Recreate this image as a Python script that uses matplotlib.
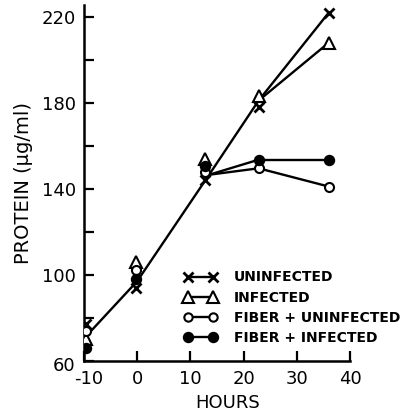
import matplotlib
matplotlib.use("Agg")
import matplotlib.pyplot as plt
import matplotlib.transforms as mtrans
from matplotlib.lines import Line2D

# ---- data ----
hours = [-9.7, -0.2, 12.8, 22.8, 36.0]
uninfected = [77, 94, 144, 178, 222]
infected = [70, 106, 154, 183, 208]
fiber_uninfected = [74, 102, 148, 149.5, 141]
fiber_infected = [66, 98, 150.5, 153.5, 153.5]

# hand-drawn curves of the figure
common_hours = [-8.8, 0.0, 13.5]
common_protein = [73.5, 97.0, 146.5]
branch_hours = [13.5, 22.8]
infected_branch = [146.5, 181.0]
fiber_unf_branch = [146.5, 149.5]
fiber_inf_branch = [146.5, 153.5]

labels = ["UNINFECTED", "INFECTED", "FIBER + UNINFECTED", "FIBER + INFECTED"]
xticks = [-10, 0, 10, 20, 30, 40]
xlabels = ["-10", "0", "10", "20", "30", "40"]
yticks = [60, 80, 100, 120, 140, 160, 180, 200, 220]
ylabels = ["60", "", "100", "", "140", "", "180", "", "220"]

plt.rcParams['font.family'] = ['DejaVu Sans']
fig = plt.figure(figsize=(4.02, 4.15), dpi=100)
ax = fig.add_axes([0.209, 0.131, 0.662, 0.857])

lw = 1.7
k = 'black'
# curves
ax.plot(common_hours, common_protein, color=k, lw=lw, zorder=2)
ax.plot(branch_hours, infected_branch, color=k, lw=lw, zorder=2)
ax.plot([branch_hours[1], hours[4]], [infected_branch[1], uninfected[4]], color=k, lw=lw, zorder=2)
ax.plot([branch_hours[1], hours[4]], [infected_branch[1], infected[4]], color=k, lw=lw, zorder=2)
ax.plot(branch_hours, fiber_unf_branch, color=k, lw=lw, zorder=2)
ax.plot([branch_hours[1], hours[4]], [fiber_unf_branch[1], fiber_uninfected[4]], color=k, lw=lw, zorder=2)
ax.plot(branch_hours, fiber_inf_branch, color=k, lw=lw, zorder=2)
ax.plot([branch_hours[1], hours[4]], [fiber_inf_branch[1], fiber_infected[4]], color=k, lw=lw, zorder=2)

# markers
ax.plot(hours, uninfected, ls='none', marker='x', ms=6.5, mew=2.0, color=k, zorder=3)
ax.plot(hours, infected, ls='none', marker='^', ms=9, mew=1.5, mfc='white', mec=k, zorder=3)
ax.plot(hours, fiber_uninfected, ls='none', marker='o', ms=6.5, mew=1.5, mfc='white', mec=k, zorder=3)
ax.plot(hours, fiber_infected, ls='none', marker='o', ms=7, mew=1.2, mfc=k, mec=k, zorder=3)

ax.set_xlim(-10, 40)
ax.set_ylim(60, 225.5)
ax.set_xticks(xticks)
ax.set_xticklabels(xlabels)
ax.set_yticks(yticks)
ax.set_yticklabels(ylabels)
ax.spines['top'].set_visible(False)
ax.spines['right'].set_visible(False)
ax.spines['left'].set_linewidth(1.8)
ax.spines['bottom'].set_linewidth(1.8)
ax.spines['bottom'].set_bounds(-10, 40)
ax.tick_params(direction='in', length=7, width=1.6, labelsize=13)
ax.tick_params(axis='y', pad=6)
ax.tick_params(axis='x', pad=7)
# nudge the first tick labels apart as in the reference
xlab0 = ax.get_xaxis().get_major_ticks()[0].label1
xlab0.set_transform(xlab0.get_transform() + mtrans.ScaledTranslation(5 / 100, 0, fig.dpi_scale_trans))
ylab0 = ax.get_yaxis().get_major_ticks()[0].label1
ylab0.set_transform(ylab0.get_transform() + mtrans.ScaledTranslation(0, -3 / 100, fig.dpi_scale_trans))

ax.set_xlabel("HOURS", fontsize=13)
ax.xaxis.set_label_coords(0.54, -0.095)
ax.set_ylabel("PROTEIN (\u00b5g/ml)", fontsize=14)
ax.yaxis.set_label_coords(-0.19, 0.5)

handles = [
    Line2D([], [], color=k, lw=lw, marker='x', ms=6.5, mew=2.0),
    Line2D([], [], color=k, lw=lw, marker='^', ms=9, mew=1.5, mfc='white', mec=k),
    Line2D([], [], color=k, lw=lw, marker='o', ms=6, mew=1.5, mfc='white', mec=k),
    Line2D([], [], color=k, lw=lw, marker='o', ms=7, mew=1.2, mfc=k, mec=k),
]
leg = ax.legend(handles, labels, numpoints=2, frameon=False, loc='lower left',
                bbox_to_anchor=(0.345, 0.02), handlelength=2.4, handletextpad=1.2,
                labelspacing=0.45, borderaxespad=0.2,
                prop={'size': 10, 'weight': 'bold'})

fig.savefig("out.png", dpi=100)
